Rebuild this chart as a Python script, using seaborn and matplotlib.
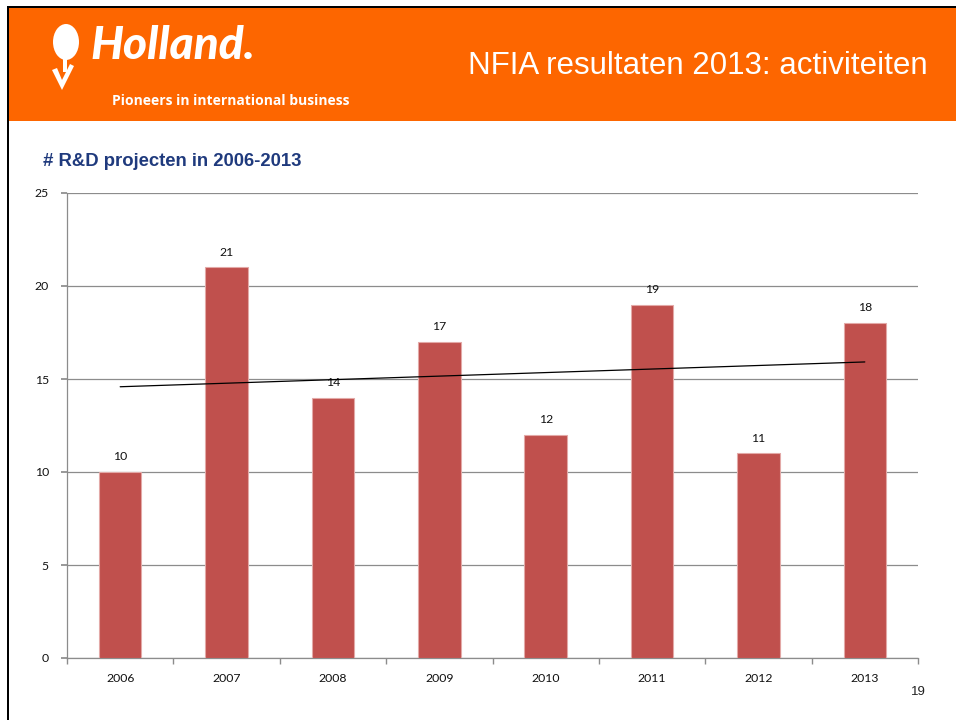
import numpy as np
import pandas as pd
import matplotlib
matplotlib.use("Agg")
import matplotlib.pyplot as plt
import seaborn as sns
from matplotlib.patches import Rectangle, Ellipse, Polygon

years = ["2006", "2007", "2008", "2009", "2010", "2011", "2012", "2013"]
projects = [10, 21, 14, 17, 12, 19, 11, 18]
y_ticks = [0, 5, 10, 15, 20, 25]

chart_title = "# R&D projecten in 2006-2013"
slide_title = "NFIA resultaten 2013: activiteiten"
tagline = "Pioneers in international business"
page_no = "19"

ORANGE = "#FD6600"
BAR = "#C0504D"
GRID = "#8C8C8C"

sns.set_theme(style="white")
plt.rcParams["font.family"] = ["Lato", "DejaVu Sans"]

df = pd.DataFrame({"year": years, "n": projects})

fig = plt.figure(figsize=(9.56, 7.2), dpi=100)
fig.patch.set_facecolor("white")

# slide header band + black page border
fig.patches.append(Rectangle((9 / 956, 1 - 121 / 720), 1, 113 / 720, transform=fig.transFigure,
                             facecolor=ORANGE, edgecolor="none", zorder=0))
fig.patches.append(Rectangle((7 / 956, 1 - 8 / 720), 1, 2 / 720, transform=fig.transFigure,
                             facecolor="black", edgecolor="none", zorder=1))
fig.patches.append(Rectangle((7 / 956, 0), 2 / 956, 1 - 6 / 720, transform=fig.transFigure,
                             facecolor="black", edgecolor="none", zorder=1))

# rough tulip mark
fig.patches.append(Ellipse((66 / 956, 1 - 42 / 720), 26 / 956, 36 / 720, transform=fig.transFigure,
                           facecolor="white", edgecolor="none"))
fig.patches.append(Polygon([(52 / 956, 1 - 70 / 720), (62 / 956, 1 - 90 / 720), (74 / 956, 1 - 66 / 720),
                            (70 / 956, 1 - 64 / 720), (62 / 956, 1 - 80 / 720), (57 / 956, 1 - 68 / 720)],
                           closed=True, transform=fig.transFigure, facecolor="white", edgecolor="none"))
fig.patches.append(Rectangle((63 / 956, 1 - 72 / 720), 4 / 956, 16 / 720, transform=fig.transFigure,
                             facecolor="white", edgecolor="none"))
fig.text(90 / 956, 1 - 46 / 720, "Holland.", color="white", fontsize=33, fontweight="black",
         style="italic", va="center", ha="left")
fig.text(112 / 956, 1 - 101 / 720, tagline, color="white", fontsize=10, fontweight="bold",
         family=["Open Sans", "DejaVu Sans"], va="center", ha="left")
fig.text(928 / 956, 1 - 66 / 720, slide_title, color="white", fontsize=22.5,
         family=["Liberation Sans", "DejaVu Sans"], va="center", ha="right")

fig.text(43 / 956, 1 - 162 / 720, chart_title, color="#1F3A7D", fontsize=13.3, fontweight="bold",
         family=["Liberation Sans", "DejaVu Sans"], va="center", ha="left")
fig.text(918 / 956, 1 - 692 / 720, page_no, color="#222222", fontsize=9.5,
         family=["Liberation Sans", "DejaVu Sans"], va="center", ha="center")

ax = fig.add_axes([67 / 956, 1 - 658 / 720, (918 - 67) / 956, (658 - 193) / 720])
sns.barplot(data=df, x="year", y="n", color=BAR, width=0.4, edgecolor="#E3A9A7",
            linewidth=0.8, saturation=1, ax=ax, zorder=3)

# linear trend line across the categories
xs = np.arange(len(projects))
k, b = np.polyfit(xs, projects, 1)
ax.plot([xs[0], xs[-1]], [k * xs[0] + b, k * xs[-1] + b], color="black", lw=0.9, zorder=4)

for i, v in enumerate(projects):
    ax.annotate(str(v), (i, v), xytext=(0, 7), textcoords="offset points",
                ha="center", va="bottom", fontsize=8.8, color="#111111")

ax.set_xlim(-0.5, len(years) - 0.5)
ax.set_ylim(0, 25)
ax.set_yticks(y_ticks)
ax.set_xlabel("")
ax.set_ylabel("")
ax.yaxis.grid(True, color=GRID, lw=0.9, zorder=0)
ax.set_axisbelow(True)
for s in ["top", "right"]:
    ax.spines[s].set_visible(False)
for s in ["left", "bottom"]:
    ax.spines[s].set_color(GRID)
    ax.spines[s].set_linewidth(0.9)
ax.set_xticks(np.arange(-0.5, len(years)), minor=True)
ax.tick_params(axis="x", which="major", length=0, pad=11, labelsize=8.8, labelcolor="#111111")
ax.tick_params(axis="x", which="minor", length=4, color=GRID, direction="out", bottom=True)
ax.tick_params(axis="y", length=4, color=GRID, direction="out", left=True, pad=9,
               labelsize=8.8, labelcolor="#111111")

fig.savefig("out.png", dpi=100, facecolor="white")
